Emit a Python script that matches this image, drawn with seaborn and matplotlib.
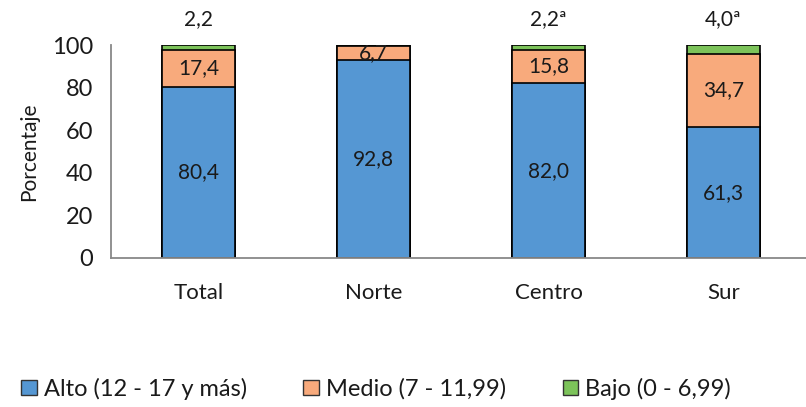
import numpy as np
import pandas as pd
import seaborn as sns
import matplotlib.pyplot as plt
from matplotlib.patches import Patch

regiones = ['Total', 'Norte', 'Centro', 'Sur']
alto = [80.4, 92.8, 82.0, 61.3]
medio = [17.4, 6.7, 15.8, 34.7]
bajo = [2.2, 0.5, 2.2, 4.0]
etq_alto = ['80,4', '92,8', '82,0', '61,3']
etq_medio = ['17,4', '6,7', '15,8', '34,7']
etq_bajo = ['2,2', '', '2,2ª', '4,0ª']

sns.set_style('white')
plt.rcParams['font.family'] = ['Lato', 'DejaVu Sans']

df = pd.DataFrame({'region': regiones, 'alto': alto, 'medio': medio, 'bajo': bajo})
df['am'] = df['alto'] + df['medio']
df['tot'] = df['am'] + df['bajo']

c_alto = '#5597d3'
c_medio = '#f8aa7c'
c_bajo = '#7cc35a'
txt = '#1a1a1a'

fig = plt.figure(figsize=[8.06, 4.07], dpi=100)
ax = fig.add_axes([111/806, 149/407, 700/806, 213/407])

w = 0.42
sns.barplot(data=df, x='region', y='tot', color=c_bajo, width=w, edgecolor='black', linewidth=1.2, ax=ax, saturation=1)
sns.barplot(data=df, x='region', y='am', color=c_medio, width=w, edgecolor='black', linewidth=1.2, ax=ax, saturation=1)
sns.barplot(data=df, x='region', y='alto', color=c_alto, width=w, edgecolor='black', linewidth=1.2, ax=ax, saturation=1)

for i in range(len(regiones)):
    ax.text(i, alto[i] / 2, etq_alto[i], ha='center', va='center', fontsize=15, color=txt)
    ax.text(i, alto[i] + medio[i] / 2, etq_medio[i], ha='center', va='center', fontsize=15, color=txt)
    if etq_bajo[i]:
        ax.text(i, 112, etq_bajo[i], ha='center', va='center', fontsize=15, color=txt, clip_on=False)

ax.set_xlim(-0.5, 3.5)
ax.set_ylim(0, 100)
ax.set_yticks([0, 20, 40, 60, 80, 100])
ax.set_xticks(np.arange(len(regiones)))
ax.set_xticklabels(regiones)
ax.set_xticks([-0.5, 0.5, 1.5, 2.5], minor=True)
ax.tick_params(axis='x', which='major', length=0, pad=18, labelsize=16, labelcolor=txt)
ax.tick_params(axis='x', which='minor', length=6, direction='out', color='#888888', width=1)
ax.tick_params(axis='y', length=5, direction='out', color='#888888', width=1, labelsize=17, labelcolor=txt, pad=8)
ax.set_xlabel('')
ax.set_ylabel('Porcentaje', fontsize=15, labelpad=9, color=txt)
for s in ['top', 'right']:
    ax.spines[s].set_visible(False)
for s in ['left', 'bottom']:
    ax.spines[s].set_color('#888888')
    ax.spines[s].set_linewidth(1.3)

handles = [Patch(facecolor=c_alto, edgecolor='#333333', label='Alto (12 - 17 y más)'),
           Patch(facecolor=c_medio, edgecolor='#333333', label='Medio (7 - 11,99)'),
           Patch(facecolor=c_bajo, edgecolor='#333333', label='Bajo (0 - 6,99)')]
fig.legend(handles=handles, loc='center left', bbox_to_anchor=(0.0, 0.045), ncol=3, frameon=False,
           fontsize=17, handlelength=0.65, handleheight=0.65, handletextpad=0.3, columnspacing=2.4,
           labelcolor=txt)

plt.savefig('out.png', dpi=100)
